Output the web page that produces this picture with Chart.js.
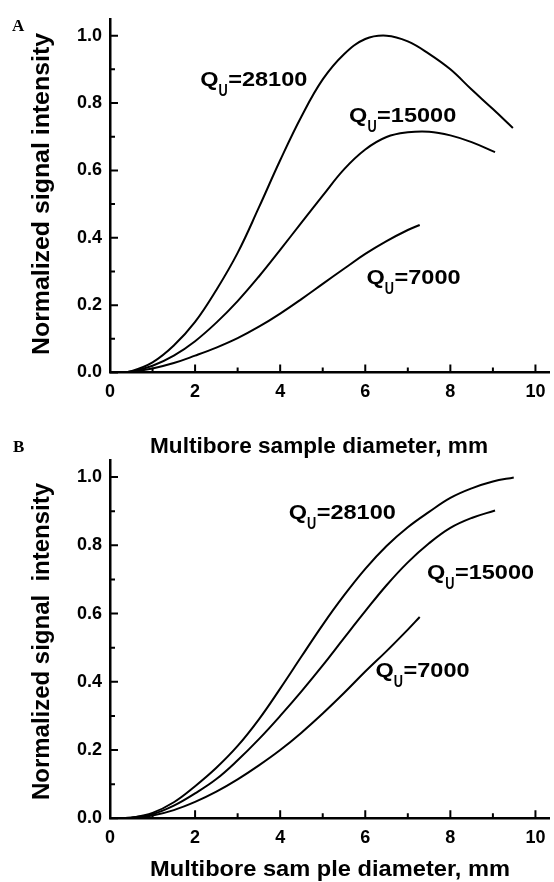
<!DOCTYPE html>
<html><head><meta charset="utf-8">
<script src="https://cdn.jsdelivr.net/npm/chart.js@4.4.1/dist/chart.umd.min.js"></script>
<style>
html,body{margin:0;padding:0;background:#fff;width:554px;height:882px;overflow:hidden;}
canvas{position:absolute;left:0;top:0;}
</style></head><body>
<canvas id="chartA" width="554" height="882"></canvas>
<canvas id="chartB" width="554" height="882"></canvas>
<script>
// ---------- data ----------
const xTickValues = [0, 2, 4, 6, 8, 10];
const xTickLabels = ['0', '2', '4', '6', '8', '10'];
const xMinorValues = [1, 3, 5, 7, 9];
const yTickValues = [0, 0.2, 0.4, 0.6, 0.8, 1.0];
const yTickLabels = ['0.0', '0.2', '0.4', '0.6', '0.8', '1.0'];
const yMinorValues = [0.1, 0.3, 0.5, 0.7, 0.9];
const seriesNames = ['28100', '15000', '7000'];

// Panel A
const diamA_28100 = [0.2,0.5,1,1.5,2,2.5,3,3.5,4,4.5,5,5.5,6,6.5,7,7.5,8,8.5,9,9.47];
const sigA_28100  = [0,0.004,0.03,0.08,0.15,0.245,0.355,0.49,0.63,0.76,0.87,0.945,0.99,1.0,0.983,0.946,0.9,0.84,0.782,0.726];
const diamA_15000 = [0.2,0.5,1,1.5,2,2.5,3,3.5,4,4.5,5,5.5,6,6.5,7,7.5,8,8.5,9.05];
const sigA_15000  = [0,0.003,0.02,0.05,0.093,0.148,0.212,0.285,0.364,0.445,0.525,0.603,0.662,0.699,0.713,0.715,0.704,0.684,0.654];
const diamA_7000  = [0.2,0.5,1,1.5,2,2.5,3,3.5,4,4.5,5,5.5,6,6.5,7,7.28];
const sigA_7000   = [0,0.002,0.012,0.028,0.05,0.074,0.102,0.136,0.175,0.218,0.263,0.308,0.352,0.39,0.423,0.438];

// Panel B
const diamB_28100 = [0.2,0.5,1,1.5,2,2.5,3,3.5,4,4.5,5,5.5,6,6.5,7,7.5,8,8.5,9,9.49];
const sigB_28100  = [0,0.002,0.016,0.047,0.094,0.148,0.212,0.29,0.38,0.474,0.567,0.653,0.731,0.798,0.853,0.898,0.939,0.967,0.987,0.999];
const diamB_15000 = [0.2,0.5,1,1.5,2,2.5,3,3.5,4,4.5,5,5.5,6,6.5,7,7.5,8,8.5,9.05];
const sigB_15000  = [0,0.002,0.012,0.037,0.073,0.115,0.17,0.232,0.3,0.372,0.448,0.528,0.607,0.683,0.75,0.806,0.851,0.88,0.902];
const diamB_7000  = [0.2,0.5,1,1.5,2,2.5,3,3.5,4,4.5,5,5.5,6,6.5,7,7.28];
const sigB_7000   = [0,0.001,0.008,0.024,0.048,0.078,0.114,0.155,0.2,0.251,0.307,0.367,0.43,0.49,0.553,0.59];

// Curve label anchors (data coordinates: left of text, baseline)
const labelA_x = [2.12, 5.62, 6.03];
const labelA_y = [0.851, 0.745, 0.262];
const labelB_x = [4.20, 7.45, 6.24];
const labelB_y = [0.878, 0.700, 0.414];

const xTitleA = 'Multibore sample diameter, mm';
const xTitleB = 'Multibore sam ple diameter, mm';
const yTitleA = 'Normalized signal intensity';
const yTitleB = 'Normalized signal  intensity';

// ---------- drawing ----------
const FONT = "'Liberation Sans', Arial, Helvetica, sans-serif";
const SERIF = "'Liberation Serif', 'Times New Roman', serif";

function pts(xs, ys) { return xs.map((x, i) => ({x: x, y: ys[i]})); }

function drawQ(ctx, x, y, num) {
  ctx.save();
  ctx.fillStyle = '#000';
  ctx.textAlign = 'left';
  ctx.textBaseline = 'alphabetic';
  ctx.font = 'bold 21px ' + FONT;
  const sx = 1.12;
  const qw = ctx.measureText('Q').width * sx;
  ctx.save(); ctx.translate(x, y); ctx.scale(sx, 1); ctx.fillText('Q', 0, 0); ctx.restore();
  ctx.font = 'bold 17px ' + FONT;
  const uw = ctx.measureText('U').width * 0.75;
  ctx.save(); ctx.translate(x + qw, y + 10); ctx.scale(0.75, 1); ctx.fillText('U', 0, 0); ctx.restore();
  ctx.font = 'bold 21px ' + FONT;
  ctx.save(); ctx.translate(x + qw + uw + 0.5, y); ctx.scale(sx, 1); ctx.fillText('=' + num, 0, 0); ctx.restore();
  ctx.restore();
}

function fitText(ctx, text, x, y, width, rotate) {
  ctx.save();
  ctx.translate(x, y);
  if (rotate) ctx.rotate(-Math.PI / 2);
  const w = ctx.measureText(text).width;
  ctx.scale(width / w, 1);
  ctx.fillText(text, 0, 0);
  ctx.restore();
}

const decorPlugin = {
  id: 'decor',
  afterDraw(chart, args, o) {
    const ctx = chart.ctx;
    const xs = chart.scales.x, ys = chart.scales.y, a = chart.chartArea;
    ctx.save();
    ctx.strokeStyle = '#000';
    ctx.lineWidth = 2;
    ctx.lineCap = 'butt';
    ctx.beginPath();
    xTickValues.forEach(v => { const p = xs.getPixelForValue(v); ctx.moveTo(p, a.bottom); ctx.lineTo(p, a.bottom - 8); });
    xMinorValues.forEach(v => { const p = xs.getPixelForValue(v); ctx.moveTo(p, a.bottom); ctx.lineTo(p, a.bottom - 5); });
    yTickValues.forEach(v => { const p = ys.getPixelForValue(v); ctx.moveTo(a.left, p); ctx.lineTo(a.left + 8, p); });
    yMinorValues.forEach(v => { const p = ys.getPixelForValue(v); ctx.moveTo(a.left, p); ctx.lineTo(a.left + 5, p); });
    ctx.stroke();

    o.labelX.forEach((lx, i) => {
      drawQ(ctx, xs.getPixelForValue(lx), ys.getPixelForValue(o.labelY[i]), seriesNames[i]);
    });

    ctx.fillStyle = '#000';
    ctx.textAlign = 'left';
    ctx.textBaseline = 'alphabetic';
    ctx.font = 'bold 22px ' + FONT;
    fitText(ctx, o.xTitle, o.xTitlePos[0], o.xTitlePos[1], o.xTitleW, false);
    ctx.font = 'bold 23px ' + FONT;
    fitText(ctx, o.yTitle, o.yTitlePos[0], o.yTitlePos[1], o.yTitleW, true);
    ctx.font = 'bold 17px ' + SERIF;
    ctx.fillText(o.letter, o.letterPos[0], o.letterPos[1]);
    ctx.restore();
  }
};

function makeChart(id, sets, padTop, padBottom, decor) {
  const line = (data) => ({
    data: data, borderColor: '#000', borderWidth: 2, pointRadius: 0,
    fill: false, tension: 0.4
  });
  return new Chart(document.getElementById(id), {
    type: 'line',
    data: { datasets: sets.map(s => line(s)) },
    options: {
      responsive: false, animation: false, devicePixelRatio: 1,
      layout: { padding: { top: padTop, bottom: padBottom, left: 0, right: 1.3 } },
      plugins: { legend: { display: false }, tooltip: { enabled: false }, decor: decor },
      scales: {
        x: {
          type: 'linear', min: 0, max: 10.33,
          afterBuildTicks: s => { s.ticks = xTickValues.map(v => ({value: v})); },
          afterFit: s => { s.height = 30; },
          grid: { display: false, drawTicks: false },
          border: { display: true, color: '#000', width: 2.5 },
          ticks: {
            autoSkip: false, maxRotation: 0, padding: 8.5, color: '#000',
            font: { family: FONT, size: 18, weight: 'bold' },
            callback: (v, i) => xTickLabels[i]
          }
        },
        y: {
          type: 'linear', min: 0, max: 1.05,
          afterBuildTicks: s => { s.ticks = yTickValues.map(v => ({value: v})); },
          afterFit: s => { s.width = 110; },
          grid: { display: false, drawTicks: false },
          border: { display: true, color: '#000', width: 2.5 },
          ticks: {
            autoSkip: false, padding: 8, color: '#000',
            font: { family: FONT, size: 18, weight: 'bold' },
            callback: (v, i) => yTickLabels[i]
          }
        }
      }
    },
    plugins: [decorPlugin]
  });
}

makeChart('chartA',
  [pts(diamA_28100, sigA_28100), pts(diamA_15000, sigA_15000), pts(diamA_7000, sigA_7000)],
  14, 882 - 372.5 - 30,
  { labelX: labelA_x, labelY: labelA_y, xTitle: xTitleA, xTitlePos: [150, 453], xTitleW: 338,
    yTitle: yTitleA, yTitlePos: [48.5, 355], yTitleW: 322, letter: 'A', letterPos: [12, 31] });

makeChart('chartB',
  [pts(diamB_28100, sigB_28100), pts(diamB_15000, sigB_15000), pts(diamB_7000, sigB_7000)],
  460, 882 - 818.3 - 30,
  { labelX: labelB_x, labelY: labelB_y, xTitle: xTitleB, xTitlePos: [150, 876], xTitleW: 360,
    yTitle: yTitleB, yTitlePos: [48.5, 800], yTitleW: 317, letter: 'B', letterPos: [13, 452] });
</script>
</body></html>
